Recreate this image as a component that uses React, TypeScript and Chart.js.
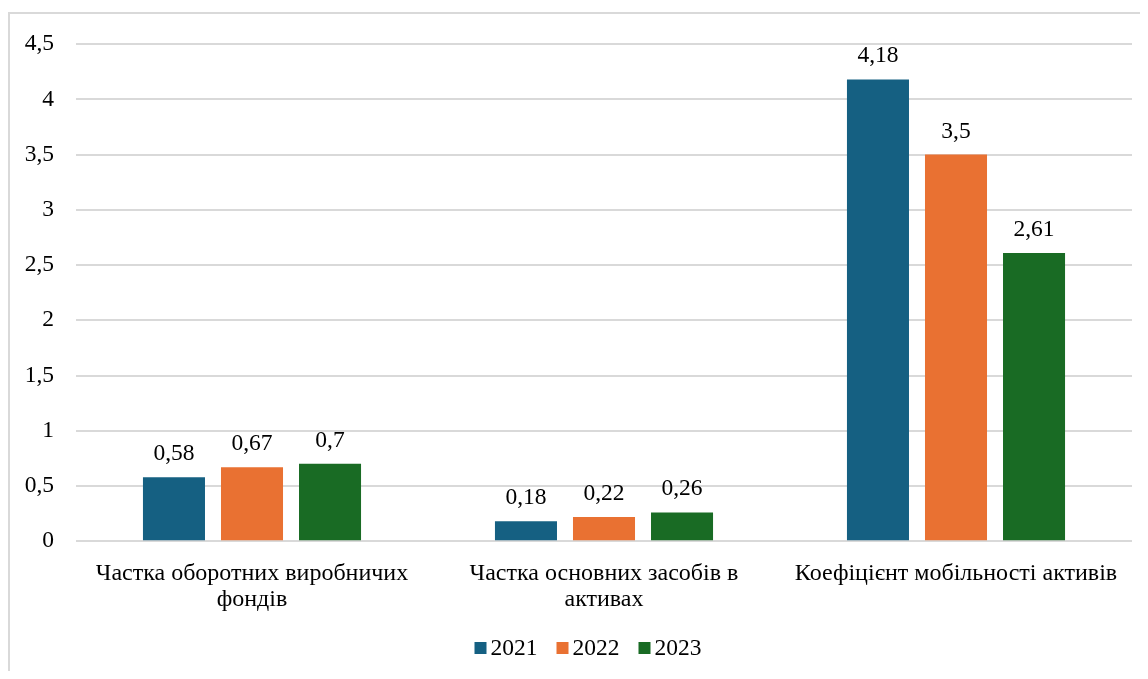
import React, { useEffect, useRef } from "react";
import { Chart, registerables } from "chart.js";

Chart.register(...registerables);

const categories: string[][] = [
  ["Частка оборотних виробничих", "фондів"],
  ["Частка основних засобів в", "активах"],
  ["Коефіцієнт мобільності активів"],
];
const seriesNames = ["2021", "2022", "2023"];
const values2021 = [0.58, 0.18, 4.18];
const values2022 = [0.67, 0.22, 3.5];
const values2023 = [0.7, 0.26, 2.61];
const seriesColors = ["#156082", "#E97132", "#196B24"];

const FONT = '"Liberation Serif", "Times New Roman", serif';
const FS = 23.5;
const FS_X = 24;

const fmt = (v: number) => String(v).replace(".", ",");

const valueLabels = {
  id: "valueLabels",
  afterDatasetsDraw(chart: any) {
    const ctx = chart.ctx;
    ctx.save();
    ctx.font = `${FS}px ${FONT}`;
    ctx.fillStyle = "#000";
    ctx.textAlign = "center";
    ctx.textBaseline = "alphabetic";
    chart.data.datasets.forEach((ds: any, di: number) => {
      const meta = chart.getDatasetMeta(di);
      meta.data.forEach((bar: any, i: number) => {
        ctx.fillText(fmt(ds.data[i]), bar.x, bar.y - 17);
      });
    });
    ctx.restore();
  },
};

const customLegend = {
  id: "customLegend",
  afterDraw(chart: any) {
    const ctx = chart.ctx;
    ctx.save();
    ctx.font = `${FS}px ${FONT}`;
    const box = 12;
    const gap = 4;
    const spacing = 19;
    const items = chart.data.datasets.map((ds: any) => ({
      label: ds.label,
      color: ds.backgroundColor,
      w: ctx.measureText(ds.label).width,
    }));
    const total =
      items.reduce((s: number, it: any) => s + box + gap + it.w, 0) +
      spacing * (items.length - 1);
    const cx = chart.width / 2 + 14;
    const cy = 640;
    let x = cx - total / 2;
    items.forEach((it: any) => {
      ctx.fillStyle = it.color;
      ctx.fillRect(x, cy - box / 2, box, box);
      x += box + gap;
      ctx.fillStyle = "#000";
      ctx.textAlign = "left";
      ctx.textBaseline = "middle";
      ctx.fillText(it.label, x, cy + 1);
      x += it.w + spacing;
    });
    ctx.restore();
  },
};

export default function App() {
  const ref = useRef<HTMLCanvasElement>(null);

  useEffect(() => {
    if (!ref.current) return;
    const seriesValues = [values2021, values2022, values2023];
    const chart = new Chart(ref.current, {
      type: "bar",
      data: {
        labels: categories,
        datasets: seriesNames.map((name, i) => ({
          label: name,
          data: seriesValues[i],
          backgroundColor: seriesColors[i],
          categoryPercentage: 0.665,
          barPercentage: 0.795,
        })),
      },
      options: {
        animation: false,
        responsive: true,
        maintainAspectRatio: false,
        layout: { padding: { left: 0, right: 8, top: 33, bottom: 47 } },
        plugins: {
          legend: { display: false },
          tooltip: { enabled: false },
        },
        scales: {
          x: {
            grid: { display: false },
            border: { display: false },
            ticks: {
              color: "#000",
              padding: 11,
              maxRotation: 0,
              autoSkip: false,
              font: { family: FONT, size: FS_X, lineHeight: 1.1 },
            },
          },
          y: {
            min: 0,
            max: 4.5,
            afterFit: (scale: any) => {
              scale.width = 68;
            },
            grid: { color: "#d9d9d9", lineWidth: 2, drawTicks: false },
            border: { display: false },
            ticks: {
              stepSize: 0.5,
              color: "#000",
              padding: 22,
              font: { family: FONT, size: FS },
              callback: (v: any) => fmt(Number(v)),
            },
          },
        },
      },
      plugins: [valueLabels, customLegend],
    });
    return () => chart.destroy();
  }, []);

  return (
    <div style={{ position: "relative", width: 1132, height: 663 }}>
      <div
        style={{
          position: "absolute",
          top: 4,
          left: 0,
          right: 0,
          bottom: 0,
          borderTop: "2px solid #d9d9d9",
          borderLeft: "2px solid #d9d9d9",
        }}
      />
      <div style={{ position: "absolute", inset: 0 }}>
        <canvas ref={ref} />
      </div>
    </div>
  );
}
